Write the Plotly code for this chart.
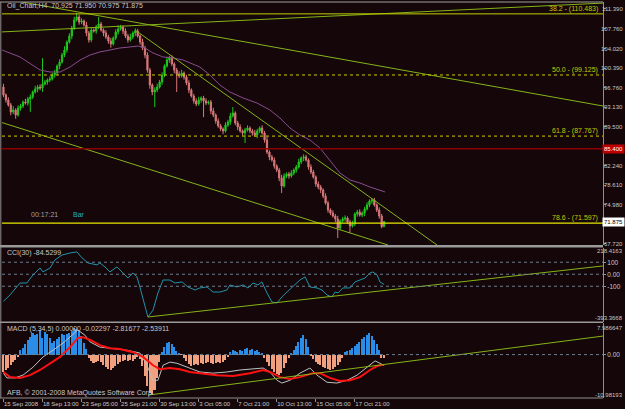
import plotly.graph_objects as go

# ---------------- data ----------------
close = [95.41, 94.48, 93.55, 92.25, 92.62, 91.69, 92.99, 93.36, 94.10, 93.92,
         94.66, 95.03, 95.96, 96.52, 96.89, 96.70, 97.45, 97.82, 98.19, 98.38,
         99.12, 99.49, 100.80, 101.54, 102.84, 103.77, 105.26, 106.37, 107.86, 109.35,
         109.90, 108.97, 109.16, 108.42, 106.93, 105.63, 107.49, 107.30, 108.04, 108.60,
         107.49, 106.93, 106.19, 105.44, 104.89, 106.00, 107.12, 107.67, 108.04, 107.30,
         106.37, 105.63, 106.19, 106.93, 107.30, 106.37, 105.26, 104.14, 102.84, 100.05,
         97.26, 95.96, 96.33, 96.89, 97.82, 99.12, 100.80, 101.91, 102.28, 101.17,
         100.05, 99.31, 98.94, 99.49, 98.75, 97.63, 96.33, 95.22, 94.29, 93.73,
         94.48, 94.85, 94.29, 93.92, 94.10, 92.43, 91.69, 90.57, 89.64, 89.09,
         88.71, 89.83, 90.39, 91.50, 92.06, 90.20, 89.46, 88.71, 88.34, 88.90,
         89.27, 88.71, 88.34, 87.97, 88.71, 89.27, 88.34, 87.04, 84.81, 83.88,
         83.32, 82.21, 81.47, 79.98, 78.49, 80.35, 80.72, 80.35, 80.91, 81.47,
         82.02, 82.95, 83.70, 83.88, 83.32, 82.02, 81.09, 80.16, 78.86, 78.30,
         77.75, 76.63, 75.33, 74.03, 73.47, 72.91, 72.36, 70.68, 71.99, 72.36,
         72.54, 71.80, 71.06, 71.43, 73.29, 73.66, 73.10, 73.47, 74.22, 74.96,
         75.70, 75.89, 74.96, 74.03, 72.91, 70.93, 71.875]
first_open = 96.9
up_wick = [0.6, 0.3, 0.5, 0.4, 0.7, 0.3, 0.5, 0.4, 0.3, 0.6,
           0.4, 0.5, 0.3, 0.6, 0.4, 0.5, 4.8, 0.4, 0.3, 0.5,
           0.4, 0.6, 0.3, 0.5, 0.4, 0.7, 0.3, 0.5, 0.4, 0.6,
           0.75, 0.4, 0.5, 0.3, 0.6, 0.4, 0.5, 0.3, 0.4, 1.3,
           0.4, 0.3, 0.5, 0.4, 0.6, 0.3, 0.5, 0.7, 0.4, 0.3,
           0.5, 0.4, 0.6, 0.3, 0.5, 0.4, 0.3, 0.6, 0.4, 0.5,
           0.4, 0.3, 0.5, 0.6, 0.4, 0.5, 0.3, 0.6, 0.4, 0.5,
           0.3, 0.4, 0.5, 0.6, 0.3, 0.4, 0.5, 0.3, 0.4, 0.5,
           0.6, 0.3, 0.4, 0.5, 0.3, 0.4, 0.6, 0.3, 0.5, 0.4,
           0.3, 0.5, 0.4, 0.6, 1.1, 0.3, 0.4, 0.5, 0.3, 0.4,
           0.5, 0.3, 0.4, 0.6, 0.4, 0.3, 0.5, 0.4, 0.6, 0.3,
           0.4, 0.5, 0.3, 0.4, 0.6, 0.5, 0.3, 0.4, 0.5, 0.3,
           0.4, 0.6, 0.3, 0.5, 0.4, 0.3, 0.5, 0.4, 0.3, 0.5,
           0.4, 0.3, 0.5, 0.4, 0.3, 0.5, 0.4, 0.6, 0.3, 0.4,
           0.5, 0.3, 0.4, 0.6, 0.3, 0.4, 0.5, 0.3, 0.4, 0.5,
           0.3, 0.36, 0.4, 0.3, 0.5, 0.4, 0.075]
dn_wick = [0.4, 0.5, 0.3, 0.6, 0.4, 0.7, 0.3, 0.5, 0.4, 0.3,
           0.5, 2.4, 0.4, 0.3, 0.6, 0.4, 0.7, 0.3, 0.5, 0.4,
           0.3, 0.5, 0.4, 0.6, 0.3, 0.4, 0.5, 0.3, 0.6, 0.4,
           0.3, 0.5, 0.4, 0.3, 0.6, 0.5, 0.4, 0.3, 0.5, 0.4,
           0.3, 0.6, 0.4, 0.5, 0.7, 0.3, 0.4, 0.5, 0.3, 0.6,
           0.4, 0.5, 0.3, 0.4, 0.6, 0.3, 0.5, 0.4, 0.6, 0.5,
           0.7, 0.6, 2.8, 0.4, 0.3, 0.5, 0.4, 0.3, 0.5, 0.4,
           0.6, 3.35, 0.4, 0.3, 0.5, 0.4, 0.6, 0.3, 0.5, 0.4,
           0.3, 0.5, 3.0, 0.4, 0.3, 0.6, 0.4, 0.5, 0.3, 0.4,
           0.6, 0.3, 0.4, 0.5, 0.3, 0.4, 0.6, 0.3, 0.5, 1.85,
           0.3, 0.4, 0.5, 0.3, 0.6, 0.4, 0.3, 0.5, 0.4, 0.6,
           0.3, 0.5, 0.4, 0.6, 1.3, 0.3, 0.4, 0.5, 0.3, 0.4,
           0.5, 0.3, 0.4, 0.6, 0.3, 0.5, 0.4, 0.3, 0.5, 0.4,
           0.6, 0.4, 0.3, 0.5, 0.4, 0.3, 0.6, 1.85, 0.4, 0.3,
           0.5, 0.4, 1.3, 0.3, 0.4, 0.5, 0.3, 0.4, 0.6, 0.3,
           0.4, 0.5, 0.3, 0.4, 0.5, 0.3, 0.05]

ma_x = [-0.6, 6.8, 15.0, 19.1, 23.2, 27.3, 31.4, 35.5, 39.5, 43.6, 47.7, 51.8, 55.1, 58.0,
        61.3, 65.4, 69.5, 73.6, 76.4, 80.5, 84.6, 88.7, 92.8, 98.2, 103.9, 109.2, 113.3,
        117.4, 121.5, 125.6, 129.7, 133.8, 137.9, 142.0, 146.1, 150.2, 154.3, 156.4]
ma_y = [103.77, 102.47, 100.05, 99.68, 99.68, 100.61, 101.91, 102.84, 103.40, 103.77, 104.14,
        104.33, 104.51, 104.14, 103.21, 102.47, 102.28, 101.91, 101.35, 100.61, 99.12, 97.26,
        95.96, 94.85, 93.92, 92.62, 91.13, 89.27, 87.97, 87.04, 85.55, 83.32, 80.91, 79.61,
        79.05, 78.30, 77.75, 77.38]

cci_x = [0, 2.7, 6.8, 9.6, 12.1, 15.0, 16.2, 19.1, 21.1, 24.0, 27.3, 30.1, 32.2, 34.6, 38.3,
         39.5, 41.6, 43.6, 46.5, 49.0, 51.0, 53.1, 54.7, 55.9, 57.2, 59.2, 61.3, 63.3, 65.4,
         68.2, 70.3, 73.2, 75.6, 78.5, 80.5, 83.4, 85.9, 88.7, 91.6, 92.8, 95.7, 98.2, 100.2,
         102.3, 104.3, 105.9, 108.0, 110.0, 112.1, 114.1, 116.2, 118.6, 121.5, 123.6, 125.6,
         128.5, 130.5, 132.6, 134.6, 135.9, 137.1, 139.1, 142.0, 144.1, 146.1, 148.2, 150.2,
         151.4, 153.1, 154.3, 156.0]
cci_y = [-225, -172, -73, -73, -6, 52, 19, 52, 119, 160, 177, 186, 136, 94, 78,
         94, 61, 19, 61, 11, -31, 11, -22, -106, -214, -356, -298, -156, -48,
         -48, -73, -64, -106, -131, -114, -106, -148, -148, -131, -89, -106, -89, -114,
         -73, -89, -64, -156, -231, -239, -189, -148, -106, -48, -22, -106,
         -114, -131, -173, -189, -148, -156, -114, -114, -64, -48, -31, 11,
         19, -6, -64, -85]

macd_hist = [-4.4, -3.9, -3.4, -2.6, -2.0, -1.4, -0.7, 1.1, 1.6, 2.7,
             3.7, 4.4, 5.4, 4.9, 5.2, 6.2, 4.2, 5.7, 5.2, 4.2,
             2.9, 3.4, 3.9, 4.4, 5.2, 4.9, 5.2, 5.4, 5.9, 6.7,
             6.5, 5.9, 4.7, 2.9, 1.4, -0.9, -1.6, -2.2, -1.9, -1.6,
             -1.9, -2.7, -3.2, -3.7, -3.9, -3.4, -2.9, -2.4, -1.9, -1.6,
             -1.4, -1.6, -1.4, -1.6, -1.1, -0.6, -1.1, -2.9, -5.4, -8.0,
             -9.7, -10.3, -9.0, -5.9, -1.9, 0.6, 1.9, 2.9, 3.2, 2.7,
             1.9, 0.9, 0.4, -0.1, -0.9, -1.6, -2.4, -2.9, -2.7, -2.4,
             -2.7, -2.2, -2.4, -2.2, -1.9, -2.2, -2.4, -2.2, -1.9, -2.2,
             -1.9, -1.4, -0.6, 0.6, 1.1, 0.9, 0.6, 1.1, 0.9, 1.4,
             1.6, 1.1, 1.4, 0.9, 1.1, 0.6, 0.4, -0.9, -1.9, -2.9,
             -3.7, -4.4, -4.9, -5.2, -4.7, -3.4, -2.2, -0.9, 0.4, 1.1,
             2.2, 3.2, 4.2, 4.9, 3.9, 1.9, -0.4, -1.1, -1.9, -2.4,
             -2.7, -3.2, -3.4, -3.7, -3.9, -3.7, -3.2, -2.7, -1.9, -0.9,
             0.6, 0.9, 1.1, 1.6, 2.2, 2.7, 3.2, 3.9, 4.4, 4.9,
             5.4, 4.7, 3.7, 2.7, 1.1, -0.9, -0.9]

macd_x = [0, 1.4, 4.7, 8.0, 12.1, 16.2, 20.3, 24.4, 28.1, 30.5, 33.4, 35.5, 39.5, 44.9, 50.6,
          55.9, 58.8, 61.3, 63.3, 65.4, 68.2, 71.1, 75.2, 80.5, 85.9, 91.6, 96.9, 102.3, 106.4,
          109.2, 112.1, 114.1, 117.4, 121.5, 125.6, 128.5, 132.6, 136.7, 140.8, 144.9, 149.0,
          152.3, 154.3, 156.0]
macd_y = [-4.7, -5.9, -5.9, -5.2, -3.2, -0.6, 1.1, 2.9, 4.9, 6.2, 4.9, 3.2, 1.9, 1.6, 1.1,
          0.4, -2.7, -6.5, -6.5, -2.7, -1.9, -2.2, -3.2, -4.4, -4.7, -4.4, -3.9, -3.7, -3.4,
          -4.4, -6.5, -7.2, -6.5, -4.7, -3.4, -5.2, -7.0, -7.2, -6.5, -5.2, -3.2,
          -1.6, -2.2, -2.8]
sig_x = [0, 2.7, 6.8, 10.9, 15.0, 19.1, 23.2, 27.3, 30.5, 32.6, 35.5, 39.5, 43.6, 47.7, 53.1,
         57.2, 61.3, 64.1, 68.2, 72.3, 76.4, 80.5, 87.5, 94.1, 101.0, 106.4, 109.2, 113.3,
         117.4, 121.5, 126.8, 129.7, 133.8, 137.9, 142.0, 146.1, 150.2, 153.1, 156.0]
sig_y = [-4.4, -5.7, -5.9, -5.2, -3.9, -2.2, -0.6, 1.9, 4.2, 4.4, 3.7, 2.4, 1.6, 1.4, 0.6,
         -0.6, -2.7, -3.7, -3.4, -3.7, -4.4, -4.7, -5.2, -5.4, -4.7, -3.9, -4.4, -5.7,
         -6.2, -5.7, -4.7, -4.7, -5.9, -6.7, -6.5, -5.7, -3.9, -2.9, -2.54]

# trend lines drawn on the chart (bar index, value)
main_trend = [([-0.6, 245.7], [113.36, 93.36]),
              ([-0.6, 245.7], [107.13, 112.49]),
              ([53.9, 177.7], [107.49, 67.52]),
              ([-0.6, 157.6], [90.28, 67.52])]
cci_trend = ([59.2, 245.7], [-356, 69])
macd_trend = ([59.2, 245.7], [-10.25, 4.68])

fib_levels = [38.2, 50.0, 61.8, 78.6]
fib_prices = [110.483, 99.125, 87.767, 71.597]
red_level = 85.40
last_price = 71.875

price_ticks = [111.39, 107.76, 104.02, 100.39, 96.76, 93.13, 89.5, 82.24, 78.61, 74.98, 67.72]
date_ticks = [0, 16, 32, 48, 64, 80, 96, 112, 128, 144]
date_labels = ["15 Sep 2008", "18 Sep 13:00", "23 Sep 05:00", "25 Sep 21:00", "30 Sep 13:00",
               "3 Oct 05:00", "7 Oct 21:00", "10 Oct 13:00", "15 Oct 05:00", "17 Oct 21:00"]

# ---------------- build ----------------
idx = list(range(len(close)))
opens = [first_open] + close[:-1]
highs = [max(o, c) + u for o, c, u in zip(opens, close, up_wick)]
lows = [min(o, c) - d for o, c, d in zip(opens, close, dn_wick)]

BG = "#140609"
GRAY = "#c8c8c8"
TL = "#86b418"
FONT = "Liberation Sans"

fig = go.Figure()

fig.add_trace(go.Candlestick(
    x=idx, open=opens, high=highs, low=lows, close=close,
    increasing=dict(line=dict(color="#1ec81e", width=1), fillcolor="#1ec81e"),
    decreasing=dict(line=dict(color="#d87878", width=1), fillcolor="#d87878"),
    whiskerwidth=0, xaxis="x", yaxis="y", showlegend=False, hoverinfo="skip"))

fig.add_trace(go.Scatter(x=ma_x, y=ma_y, mode="lines", line=dict(color="#8a4c8e", width=1),
                         xaxis="x", yaxis="y", showlegend=False, hoverinfo="skip"))
for tx, ty in main_trend:
    fig.add_trace(go.Scatter(x=tx, y=ty, mode="lines", line=dict(color=TL, width=1),
                             xaxis="x", yaxis="y", showlegend=False, hoverinfo="skip"))

# CCI
fig.add_trace(go.Scatter(x=cci_x, y=cci_y, mode="lines", line=dict(color="#1f94ad", width=1),
                         xaxis="x2", yaxis="y2", showlegend=False, hoverinfo="skip"))
fig.add_trace(go.Scatter(x=cci_trend[0], y=cci_trend[1], mode="lines", line=dict(color=TL, width=1),
                         xaxis="x2", yaxis="y2", showlegend=False, hoverinfo="skip"))

# MACD
fig.add_trace(go.Bar(x=idx, y=macd_hist, width=0.62,
                     marker=dict(color=["#2a8ee8" if v >= 0 else "#f0a07e" for v in macd_hist],
                                 line=dict(width=0)),
                     xaxis="x3", yaxis="y3", showlegend=False, hoverinfo="skip"))
fig.add_trace(go.Scatter(x=macd_x, y=macd_y, mode="lines", line=dict(color="#c0c0c0", width=1),
                         xaxis="x3", yaxis="y3", showlegend=False, hoverinfo="skip"))
fig.add_trace(go.Scatter(x=sig_x, y=sig_y, mode="lines", line=dict(color="#ff1010", width=2),
                         xaxis="x3", yaxis="y3", showlegend=False, hoverinfo="skip"))
fig.add_trace(go.Scatter(x=macd_trend[0], y=macd_trend[1], mode="lines", line=dict(color=TL, width=1),
                         xaxis="x3", yaxis="y3", showlegend=False, hoverinfo="skip"))

shapes = []
fib_styles = [("#c4d000", "solid", 1), ("#d0d000", "dot", 1), ("#d0d000", "dot", 1), ("#e8e800", "solid", 1.3)]
for p, (col, dash, w) in zip(fib_prices, fib_styles):
    shapes.append(dict(type="line", xref="x domain", yref="y", x0=0, x1=1, y0=p, y1=p,
                       line=dict(color=col, width=w, dash=dash)))
shapes.append(dict(type="line", xref="x domain", yref="y", x0=0, x1=1, y0=red_level, y1=red_level,
                   line=dict(color="#8c0000", width=1.5)))
for lv in [100, 0, -100]:
    shapes.append(dict(type="line", xref="x2 domain", yref="y2", x0=0, x1=1, y0=lv, y1=lv,
                       line=dict(color="#6a7f90", width=1, dash="dot")))
shapes.append(dict(type="line", xref="x3 domain", yref="y3", x0=0, x1=1, y0=0, y1=0,
                   line=dict(color="#6a7f90", width=1, dash="dot")))

H = 396.0
def py(pix):
    return (398 - pix) / H

RX = (624.5 - 2) / 601.0  # paper x of the window's right edge

for a, b in [(245, 247.5), (321.5, 323)]:
    shapes.append(dict(type="rect", xref="paper", yref="paper", x0=-0.004, x1=1.0, y0=py(b), y1=py(a),
                       fillcolor="#9a9a9a", line=dict(width=0), layer="above"))
shapes.append(dict(type="line", xref="paper", yref="paper", x0=-0.004, x1=1, y0=1, y1=1,
                   line=dict(color="#a0a0a0", width=1)))
shapes.append(dict(type="line", xref="paper", yref="paper", x0=-0.002, x1=-0.002, y0=0, y1=1,
                   line=dict(color="#909090", width=1)))
shapes.append(dict(type="line", xref="paper", yref="paper", x0=-0.004, x1=1, y0=0, y1=0,
                   line=dict(color="#909090", width=1)))

ann = []
small = dict(family=FONT, size=7, color=GRAY)
tiny = dict(family=FONT, size=6, color=GRAY)
ann.append(dict(text="Oil_Chart,H4  70.925 71.950 70.975 71.875", xref="paper", yref="paper",
                x=0.005, y=py(6.5), xanchor="left", yanchor="middle", showarrow=False, font=small))
for lvl, p in zip(fib_levels, fib_prices):
    ann.append(dict(text=f"{lvl:.1f} - ({p:.3f})", xref="paper", yref="y", x=0.995, y=p,
                    xanchor="right", yanchor="bottom", showarrow=False,
                    font=dict(family=FONT, size=7, color="#c8c800"), yshift=-1))
# right-hand price scale labels (kept inside the window)
for v in price_ticks:
    ann.append(dict(text=f"{v:.3f}", xref="paper", yref="y", x=RX, y=v, xanchor="right",
                    yanchor="middle", showarrow=False, font=tiny))
ann.append(dict(text="00:17:21", xref="paper", yref="paper", x=0.045, y=py(214), xanchor="left",
                yanchor="middle", showarrow=False, font=dict(family=FONT, size=7, color="#a0a0a0")))
ann.append(dict(text="Bar", xref="paper", yref="paper", x=0.115, y=py(214), xanchor="left",
                yanchor="middle", showarrow=False, font=dict(family=FONT, size=7, color="#20b4c4")))
ann.append(dict(text=f"{red_level:.3f}", xref="paper", yref="y", x=RX, y=red_level, xanchor="right",
                yanchor="middle", showarrow=False, bgcolor="#c00000", borderpad=1,
                font=dict(family=FONT, size=6, color="#ffffff")))
ann.append(dict(text=f"{last_price:.3f}", xref="paper", yref="y", x=RX, y=last_price, xanchor="right",
                yanchor="middle", showarrow=False, bgcolor="#ffffff", borderpad=1,
                font=dict(family=FONT, size=6, color="#000000")))
ann.append(dict(text="CCI(30) -84.5299", xref="paper", yref="paper", x=0.005, y=py(253),
                xanchor="left", yanchor="middle", showarrow=False, font=small))
ann.append(dict(text="218.4163", xref="paper", yref="paper", x=RX, y=py(251.5), xanchor="right",
                yanchor="middle", showarrow=False, font=tiny))
ann.append(dict(text="-393.3668", xref="paper", yref="paper", x=RX, y=py(318), xanchor="right",
                yanchor="middle", showarrow=False, font=tiny))
ann.append(dict(text="MACD (5,34,5) 0.00000 -0.02297 -2.81677 -2.53911", xref="paper", yref="paper",
                x=0.005, y=py(329), xanchor="left", yanchor="middle", showarrow=False, font=small))
ann.append(dict(text="7.986647", xref="paper", yref="paper", x=RX, y=py(328), xanchor="right",
                yanchor="middle", showarrow=False, font=tiny))
ann.append(dict(text="-10.98193", xref="paper", yref="paper", x=RX, y=py(394.5), xanchor="right",
                yanchor="middle", showarrow=False, font=tiny))
ann.append(dict(text="AFB, © 2001-2008 MetaQuotes Software Corp.", xref="paper", yref="paper",
                x=0.005, y=py(393), xanchor="left", yanchor="middle", showarrow=False, font=small))

xr = [-0.6, 245.7]
common_x = dict(range=xr, showgrid=False, zeroline=False, showticklabels=False, automargin=False,
                rangeslider=dict(visible=False), fixedrange=True, showline=False)
yax_common = dict(side="right", showgrid=False, zeroline=False, showline=True, linecolor="#909090",
                  linewidth=1, ticks="outside", ticklen=2, tickcolor="#909090", automargin=False,
                  tickfont=dict(family=FONT, size=6.5, color=GRAY))

fig.update_layout(
    template="none",
    width=625, height=409,
    margin=dict(l=2, r=22, t=2, b=11, autoexpand=False),
    paper_bgcolor=BG, plot_bgcolor=BG,
    showlegend=False, bargap=0,
    xaxis=dict(domain=[0, 1], anchor="y", **common_x),
    xaxis2=dict(domain=[0, 1], anchor="y2", matches="x", range=xr, showgrid=False, zeroline=False,
                showticklabels=False, automargin=False, showline=False),
    xaxis3=dict(domain=[0, 1], anchor="y3", range=xr, showgrid=False, zeroline=False, showline=False,
                tickvals=date_ticks, ticktext=date_labels, ticks="outside", ticklen=3, tickangle=0,
                tickcolor="#909090", ticklabelposition="outside right", automargin=False,
                tickfont=dict(family=FONT, size=6, color=GRAY), matches="x"),
    yaxis=dict(domain=[py(245), 1], anchor="x", range=[67.525, 112.69],
               tickvals=price_ticks, showticklabels=False, **yax_common),
    yaxis2=dict(domain=[py(321.5), py(248)], anchor="x2", range=[-393.3668, 218.4163],
                tickvals=[100, 0, -100], ticktext=["100", "0.00", "-100"], **yax_common),
    yaxis3=dict(domain=[0, py(323)], anchor="x3", range=[-10.98193, 7.986647],
                tickvals=[0], ticktext=["0.00"], **yax_common),
    shapes=shapes, annotations=ann,
)

fig.write_html("out.html")
